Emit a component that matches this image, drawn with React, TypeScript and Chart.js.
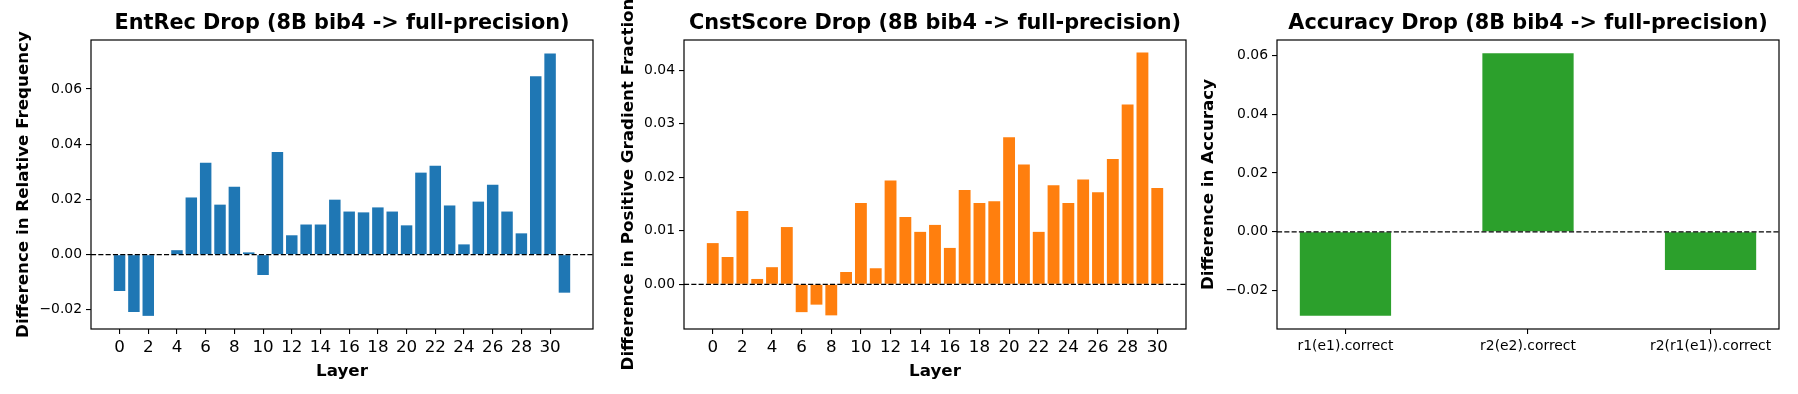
import React, { useEffect, useRef } from "react";
import { Chart, registerables } from "chart.js";
Chart.register(...registerables);

const FONT = "'DejaVu Sans', sans-serif";

// ---------- Data ----------
const entRecLayers = [0, 1, 2, 3, 4, 5, 6, 7, 8, 9, 10, 11, 12, 13, 14, 15, 16, 17, 18, 19, 20, 21, 22, 23, 24, 25, 26, 27, 28, 29, 30, 31];
const entRecDrop = [
  -0.0132, -0.0208, -0.0222, 0.0, 0.0016, 0.0207, 0.0333, 0.0181, 0.0246, 0.0008,
  -0.0074, 0.0372, 0.0070, 0.0109, 0.0109, 0.0199, 0.0156, 0.0153, 0.0171, 0.0156,
  0.0106, 0.0297, 0.0322, 0.0178, 0.0037, 0.0192, 0.0253, 0.0156, 0.0077, 0.0646,
  0.0729, -0.0138,
];
const entRecXTicks = [0, 2, 4, 6, 8, 10, 12, 14, 16, 18, 20, 22, 24, 26, 28, 30];
const entRecYTicks = [-0.02, 0.0, 0.02, 0.04, 0.06];

const cnstLayers = [0, 1, 2, 3, 4, 5, 6, 7, 8, 9, 10, 11, 12, 13, 14, 15, 16, 17, 18, 19, 20, 21, 22, 23, 24, 25, 26, 27, 28, 29, 30];
const cnstDrop = [
  0.0077, 0.0051, 0.0137, 0.0010, 0.0032, 0.0107, -0.0052, -0.0038, -0.0058, 0.0023,
  0.0152, 0.0030, 0.0194, 0.0126, 0.0098, 0.0111, 0.0068, 0.0176, 0.0152, 0.0155,
  0.0275, 0.0224, 0.0098, 0.0185, 0.0152, 0.0196, 0.0172, 0.0234, 0.0336, 0.0433,
  0.0180,
];
const cnstXTicks = [0, 2, 4, 6, 8, 10, 12, 14, 16, 18, 20, 22, 24, 26, 28, 30];
const cnstYTicks = [0.0, 0.01, 0.02, 0.03, 0.04];

const accCategories = ["r1(e1).correct", "r2(e2).correct", "r2(r1(e1)).correct"];
const accPositions = [0, 1, 2];
const accDrop = [-0.0286, 0.0608, -0.0130];
const accYTicks = [-0.02, 0.0, 0.02, 0.04, 0.06];

// ---------- helpers ----------
const fmtY = (v: number) => {
  const s = Math.abs(v).toFixed(2);
  return v < -1e-9 ? "\u2212" + s : s;
};

const frame = {
  id: "frame",
  afterDatasetsDraw(chart: any) {
    const { ctx, chartArea } = chart;
    const ys = chart.scales.y;
    const y0 = ys.getPixelForValue(0);
    ctx.save();
    ctx.strokeStyle = "#000";
    ctx.lineWidth = 1.3;
    ctx.setLineDash([5.1, 2.2]);
    ctx.beginPath();
    ctx.moveTo(chartArea.left, y0);
    ctx.lineTo(chartArea.right, y0);
    ctx.stroke();
    ctx.setLineDash([]);
    ctx.lineWidth = 1.2;
    ctx.strokeRect(chartArea.left, chartArea.top, chartArea.right - chartArea.left, chartArea.bottom - chartArea.top);
    ctx.restore();
  },
};

type PanelProps = {
  left: number;
  width: number;
  plotLeft: number;
  plotRight: number;
  xs: number[];
  ys: number[];
  xMin: number;
  xMax: number;
  yMin: number;
  yMax: number;
  xTicks: number[];
  yTicks: number[];
  xLabels?: string[];
  color: string;
  barPct: number;
  title: string;
  yTitle: string;
  yTitlePad: number;
  xTitle?: string;
  xTickSize: number;
};

function Panel(p: PanelProps) {
  const ref = useRef<HTMLCanvasElement>(null);
  useEffect(() => {
    const chart = new Chart(ref.current as HTMLCanvasElement, {
      type: "bar",
      data: {
        datasets: [
          {
            data: p.xs.map((x, i) => ({ x, y: p.ys[i] })),
            backgroundColor: p.color,
            borderWidth: 0,
            barPercentage: p.barPct,
            categoryPercentage: 1,
          },
        ],
      },
      options: {
        responsive: false,
        animation: false,
        devicePixelRatio: 1,
        layout: { padding: { left: 0, right: p.width - p.plotRight, top: 0, bottom: 0 } },
        plugins: {
          legend: { display: false },
          tooltip: { enabled: false },
          title: {
            display: true,
            text: p.title,
            fullSize: false,
            color: "#000",
            font: { family: FONT, size: 20.8, weight: "bold", lineHeight: 1.2 },
            padding: { top: 11.5, bottom: 3.54 },
          },
        },
        scales: {
          x: {
            type: "linear",
            min: p.xMin,
            max: p.xMax,
            offset: false,
            afterBuildTicks: (s: any) => {
              s.ticks = p.xTicks.map((v) => ({ value: v }));
            },
            afterFit: (s: any) => {
              s.height = 65;
            },
            ticks: {
              autoSkip: false,
              maxRotation: 0,
              minRotation: 0,
              padding: 4,
              color: "#000",
              font: { family: FONT, size: p.xTickSize },
              callback: (v: any) => (p.xLabels ? p.xLabels[Math.round(v)] : String(v)),
            },
            grid: { offset: false, drawOnChartArea: false, tickLength: 5, color: "#000", lineWidth: 1.1 },
            border: { display: false },
            title: {
              display: !!p.xTitle,
              text: p.xTitle || "",
              color: "#000",
              font: { family: FONT, size: 16.7, weight: "bold", lineHeight: 1.2 },
              padding: { top: 0, bottom: 12 },
            },
          },
          y: {
            min: p.yMin,
            max: p.yMax,
            afterBuildTicks: (s: any) => {
              s.ticks = p.yTicks.map((v) => ({ value: v }));
            },
            afterFit: (s: any) => {
              s.width = p.plotLeft;
            },
            ticks: {
              padding: 4,
              color: "#000",
              font: { family: FONT, size: 13.9 },
              callback: (v: any) => fmtY(Number(v)),
            },
            grid: { offset: false, drawOnChartArea: false, tickLength: 5, color: "#000", lineWidth: 1.1 },
            border: { display: false },
            title: {
              display: true,
              text: p.yTitle,
              color: "#000",
              font: { family: FONT, size: 16.7, weight: "bold", lineHeight: 1 },
              padding: { top: p.yTitlePad, bottom: 0 },
            },
          },
        },
      } as any,
      plugins: [frame],
    });
    return () => chart.destroy();
  }, []);
  return (
    <canvas
      ref={ref}
      width={p.width}
      height={394}
      style={{ position: "absolute", left: p.left, top: 0, width: p.width, height: 394 }}
    />
  );
}

export default function App() {
  return (
    <div style={{ position: "absolute", left: 0, top: 0, width: 1798, height: 394, background: "#fff" }}>
      <Panel
        left={0}
        width={600}
        plotLeft={91}
        plotRight={593}
        xs={entRecLayers}
        ys={entRecDrop}
        xMin={-1.99}
        xMax={32.99}
        yMin={-0.02696}
        yMax={0.07776}
        xTicks={entRecXTicks}
        yTicks={entRecYTicks}
        color="#1f77b4"
        barPct={0.8}
        title="EntRec Drop (8B bib4 -> full-precision)"
        yTitle="Difference in Relative Frequency"
        yTitlePad={15.6}
        xTitle="Layer"
        xTickSize={16.7}
      />
      <Panel
        left={600}
        width={600}
        plotLeft={84}
        plotRight={586}
        xs={cnstLayers}
        ys={cnstDrop}
        xMin={-1.94}
        xMax={31.94}
        yMin={-0.00835}
        yMax={0.04565}
        xTicks={cnstXTicks}
        yTicks={cnstYTicks}
        color="#ff7f0e"
        barPct={0.8}
        title="CnstScore Drop (8B bib4 -> full-precision)"
        yTitle="Difference in Positive Gradient Fraction"
        yTitlePad={20.6}
        xTitle="Layer"
        xTickSize={16.7}
      />
      <Panel
        left={1200}
        width={598}
        plotLeft={77}
        plotRight={579}
        xs={accPositions}
        ys={accDrop}
        xMin={-0.375}
        xMax={2.375}
        yMin={-0.0331}
        yMax={0.0653}
        xTicks={accPositions}
        yTicks={accYTicks}
        xLabels={accCategories}
        color="#2ca02c"
        barPct={0.5}
        title="Accuracy Drop (8B bib4 -> full-precision)"
        yTitle="Difference in Accuracy"
        yTitlePad={0}
        xTickSize={13.9}
      />
    </div>
  );
}
